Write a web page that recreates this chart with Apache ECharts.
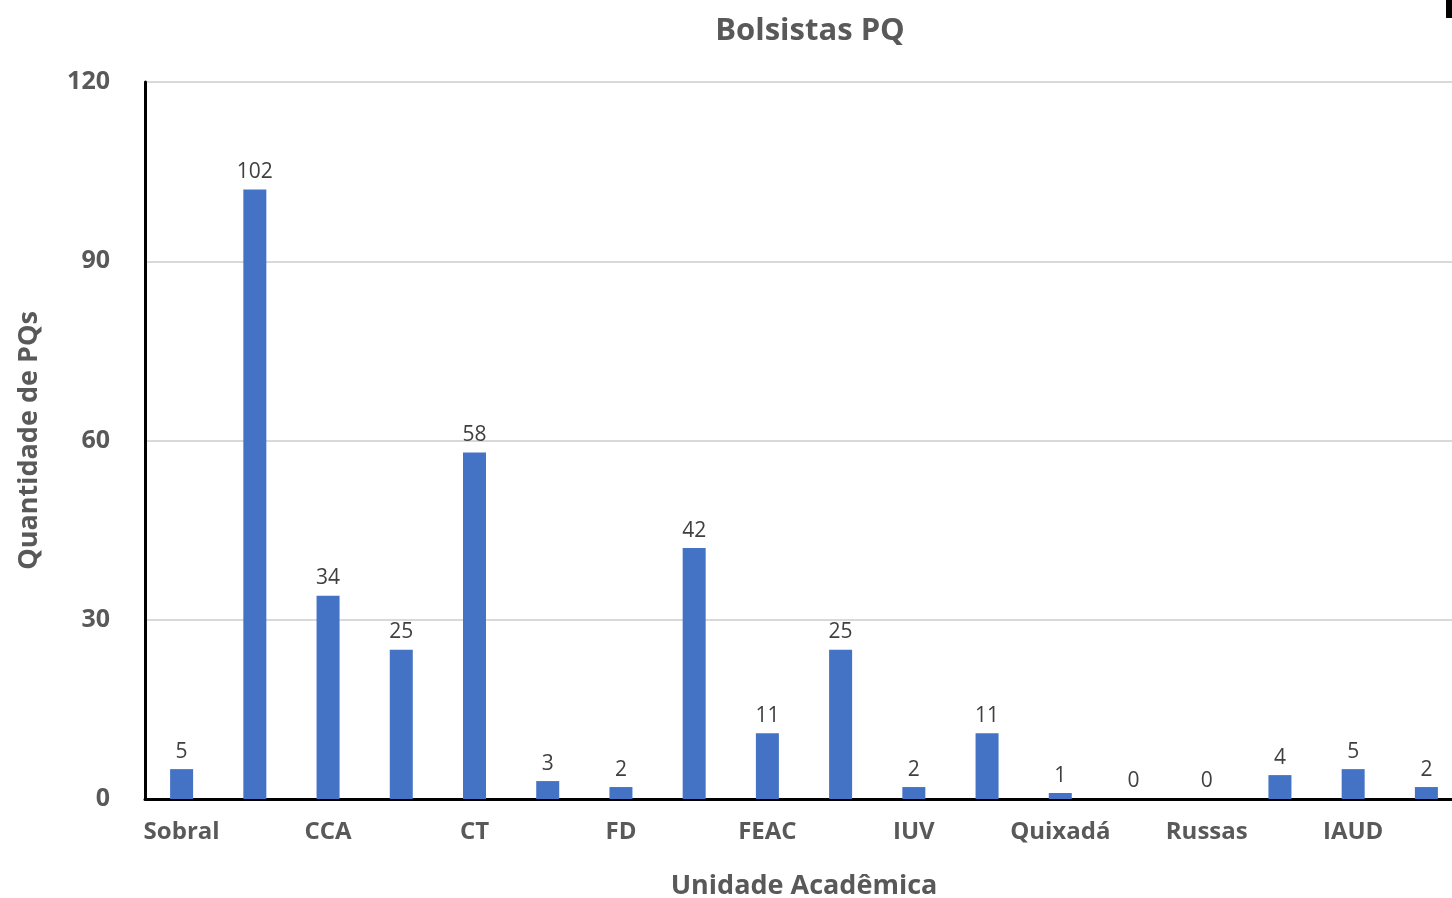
<!DOCTYPE html>
<html>
<head>
<meta charset="utf-8">
<script src="https://cdn.jsdelivr.net/npm/echarts@6/dist/echarts.min.js"></script>
<style>
  html, body { margin: 0; padding: 0; background: #fff; }
  #main { width: 1452px; height: 898px; }
</style>
</head>
<body>
<div id="main"></div>
<script>
// unidades (so uma sim, outra nao aparece no eixo)
var unidades = ['Sobral', 'CC', 'CCA', 'CH', 'CT', 'FACED', 'FD', 'FAMED', 'FEAC', 'FFOE',
    'IUV', 'ICM', 'Quixadá', 'Crateús', 'Russas', 'Itapajé', 'IAUD', 'IEFES'];
var bolsistas = [5, 102, 34, 25, 58, 3, 2, 42, 11, 25, 2, 11, 1, 0, 0, 4, 5, 2];
var yTicks = [0, 30, 60, 90, 120];

var corTexto = '#595959';
var fonte = '"Open Sans", "Noto Sans", sans-serif';

var chartDom = document.getElementById('main');
var myChart = echarts.init(chartDom);

var option = {
    animation: false,
    title: {
        text: 'Bolsistas PQ',
        left: 805,
        textAlign: 'center',
        top: 11,
        textStyle: {
            fontFamily: fonte,
            fontSize: 31,
            fontWeight: 'bold',
            color: corTexto
        }
    },
    grid: {
        left: 145,
        right: -11,
        top: 82,
        bottom: 99,
        outerBoundsMode: 'none',
        containLabel: false
    },
    xAxis: {
        type: 'category',
        data: unidades,
        name: 'Unidade Acadêmica',
        nameLocation: 'middle',
        nameGap: 74,
        nameTextStyle: {
            fontFamily: fonte,
            fontSize: 27,
            fontWeight: 'bold',
            color: corTexto
        },
        axisLine: { lineStyle: { color: '#000', width: 3 } },
        axisTick: { show: false },
        axisLabel: {
            interval: 1,
            margin: 21,
            fontFamily: fonte,
            fontSize: 24,
            fontWeight: 'bold',
            color: corTexto
        }
    },
    yAxis: {
        type: 'value',
        min: yTicks[0],
        max: yTicks[yTicks.length - 1],
        interval: 30,
        name: 'Quantidade de PQs',
        nameLocation: 'middle',
        nameGap: 102,
        nameTextStyle: {
            fontFamily: fonte,
            fontSize: 27,
            fontWeight: 'bold',
            color: corTexto
        },
        axisLine: { show: true, lineStyle: { color: '#000', width: 3 } },
        axisTick: { show: false },
        axisLabel: {
            margin: 35,
            padding: [8, 0, 0, 0],
            fontFamily: fonte,
            fontSize: 25,
            fontWeight: 'bold',
            color: corTexto
        },
        splitLine: { lineStyle: { color: '#d9d9d9', width: 2 } }
    },
    series: [
        {
            name: 'Bolsistas PQ',
            type: 'bar',
            barWidth: 23,
            itemStyle: { color: '#4472C4' },
            label: {
                show: true,
                position: 'top',
                distance: 7,
                fontFamily: fonte,
                fontSize: 21,
                color: '#404040'
            },
            data: bolsistas
        }
    ],
    graphic: [
        {
            type: 'rect',
            shape: { x: 1446, y: 0, width: 6, height: 18 },
            style: { fill: '#000' }
        }
    ]
};

myChart.setOption(option);
</script>
</body>
</html>
